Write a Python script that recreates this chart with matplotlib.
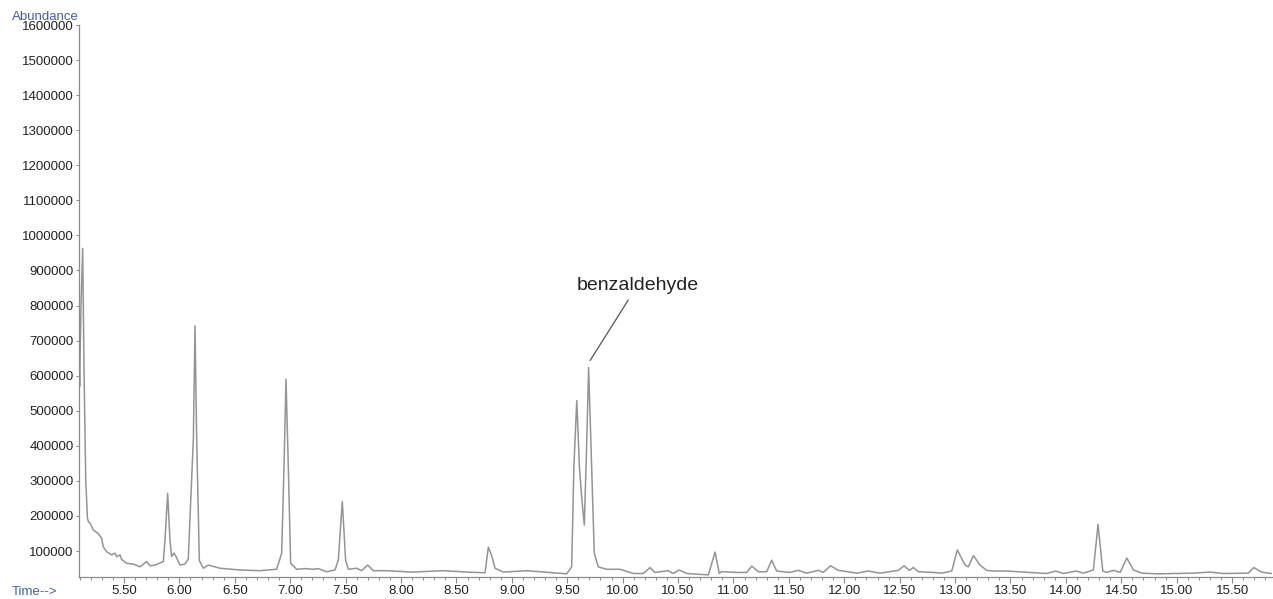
import matplotlib
matplotlib.use('Agg')
from matplotlib import pyplot as plt
from matplotlib.ticker import MultipleLocator, FuncFormatter

# trace (retention time in min, abundance)
time_min = [
    5.095, 5.100, 5.112, 5.127, 5.140, 5.155, 5.170, 5.178, 5.193, 5.223,
    5.268, 5.299, 5.313, 5.344, 5.389, 5.419, 5.434, 5.464, 5.479, 5.524,
    5.584, 5.644, 5.705, 5.735, 5.780, 5.855, 5.870, 5.894, 5.915, 5.930,
    5.951, 5.970, 6.005, 6.050, 6.080, 6.126, 6.141, 6.156, 6.180, 6.216,
    6.260, 6.366, 6.547, 6.727, 6.878, 6.923, 6.944, 6.962, 6.983, 7.004,
    7.058, 7.133, 7.208, 7.253, 7.329, 7.404, 7.434, 7.470, 7.500, 7.525,
    7.600, 7.644, 7.699, 7.750, 7.870, 8.100, 8.380, 8.600, 8.758, 8.788,
    8.818, 8.848, 8.923, 9.134, 9.300, 9.495, 9.540, 9.560, 9.586, 9.610,
    9.630, 9.654, 9.675, 9.693, 9.720, 9.744, 9.780, 9.856, 9.976, 10.097,
    10.187, 10.247, 10.290, 10.410, 10.455, 10.510, 10.578, 10.773, 10.834, 10.872,
    10.894, 11.030, 11.120, 11.165, 11.225, 11.300, 11.345, 11.390, 11.510, 11.585,
    11.660, 11.766, 11.810, 11.877, 11.946, 12.112, 12.217, 12.323, 12.488, 12.540,
    12.588, 12.624, 12.669, 12.805, 12.880, 12.970, 13.020, 13.090, 13.120, 13.165,
    13.225, 13.285, 13.345, 13.466, 13.676, 13.826, 13.910, 13.977, 14.092, 14.158,
    14.248, 14.290, 14.333, 14.370, 14.430, 14.490, 14.550, 14.610, 14.685, 14.820,
    15.150, 15.300, 15.420, 15.645, 15.696, 15.765, 15.855,
]
abundance = [
    640000, 570000, 800000, 963000, 600000, 300000, 195000, 184000, 180000, 160000,
    150000, 136000, 112000, 98000, 89000, 94000, 84000, 89000, 76000, 65000,
    63000, 55000, 70000, 58000, 60000, 70000, 131000, 265000, 131000, 84000,
    94000, 84000, 60000, 63000, 77000, 420000, 742000, 420000, 73000, 51000,
    60000, 51000, 46000, 44000, 48000, 94000, 340000, 590000, 340000, 65000,
    48000, 50000, 48000, 50000, 41000, 46000, 74000, 241000, 74000, 48000,
    51000, 44000, 60000, 44000, 44000, 40000, 44000, 40000, 38000, 111000,
    87000, 51000, 40000, 44000, 40000, 35000, 55000, 340000, 529000, 340000,
    255000, 174000, 400000, 623000, 340000, 94000, 55000, 48000, 48000, 36000,
    36000, 53000, 39000, 44000, 36000, 46000, 36000, 32000, 97000, 36000,
    41000, 39000, 39000, 57000, 41000, 41000, 74000, 43000, 39000, 45000,
    37000, 45000, 39000, 58000, 45000, 37000, 43000, 37000, 45000, 58000,
    45000, 53000, 41000, 39000, 37000, 43000, 103000, 60000, 55000, 87000,
    60000, 45000, 43000, 43000, 39000, 36000, 43000, 36000, 43000, 37000,
    46000, 176000, 43000, 39000, 45000, 39000, 80000, 46000, 37000, 35000,
    37000, 40000, 36000, 37000, 53000, 40000, 36000,
]

peak_label = 'benzaldehyde'
peak_xy = (9.70, 640000)
label_xy = (10.135, 858000)

x_range = (5.094, 15.86)
y_range = (26000, 1600000)


def main():
    plt.rcParams['font.family'] = ['Liberation Sans', 'DejaVu Sans']
    fig = plt.figure(figsize=(12.73, 5.99), dpi=100)
    ax = fig.add_axes([79 / 1273, 22 / 599, 1193 / 1273, 552 / 599])

    ax.plot(time_min, abundance, color='#949494', lw=1.1)
    ax.set_xlim(*x_range)
    ax.set_ylim(*y_range)

    for side in ['top', 'right']:
        ax.spines[side].set_visible(False)
    for side in ['left', 'bottom']:
        ax.spines[side].set_color('#8a8a8a')
        ax.spines[side].set_linewidth(0.9)

    ax.xaxis.set_major_locator(MultipleLocator(0.5))
    ax.xaxis.set_minor_locator(MultipleLocator(0.1))
    ax.xaxis.set_major_formatter(FuncFormatter(lambda v, p: f'{v:.2f}'))
    ax.yaxis.set_major_locator(MultipleLocator(100000))
    ax.yaxis.set_major_formatter(FuncFormatter(lambda v, p: f'{int(round(v))}'))

    ax.tick_params(axis='x', which='major', direction='out', length=4,
                   width=0.8, color='#8a8a8a', labelsize=9.5, labelcolor='#222222', pad=1.5)
    ax.tick_params(axis='x', which='minor', direction='out', length=2.5,
                   width=0.7, color='#8a8a8a')
    ax.tick_params(axis='y', which='major', direction='out', length=2,
                   width=0.7, color='#8a8a8a', labelsize=9.5, labelcolor='#222222', pad=2)

    ax.annotate(
        peak_label, xy=peak_xy, xytext=label_xy,
        ha='center', va='center', fontsize=14, color='#222222',
        arrowprops=dict(arrowstyle='-', color='#555555', lw=0.9,
                        shrinkA=3, shrinkB=1),
    )

    fig.text(12 / 1273, 1 - 17 / 599, 'Abundance', color='#3f5fae',
             fontsize=9.5, ha='left', va='center')
    fig.text(12 / 1273, 1 - 592 / 599, 'Time-->', color='#3f5fae',
             fontsize=9.5, ha='left', va='center')

    fig.savefig('out.png', dpi=100)


if __name__ == '__main__':
    main()
